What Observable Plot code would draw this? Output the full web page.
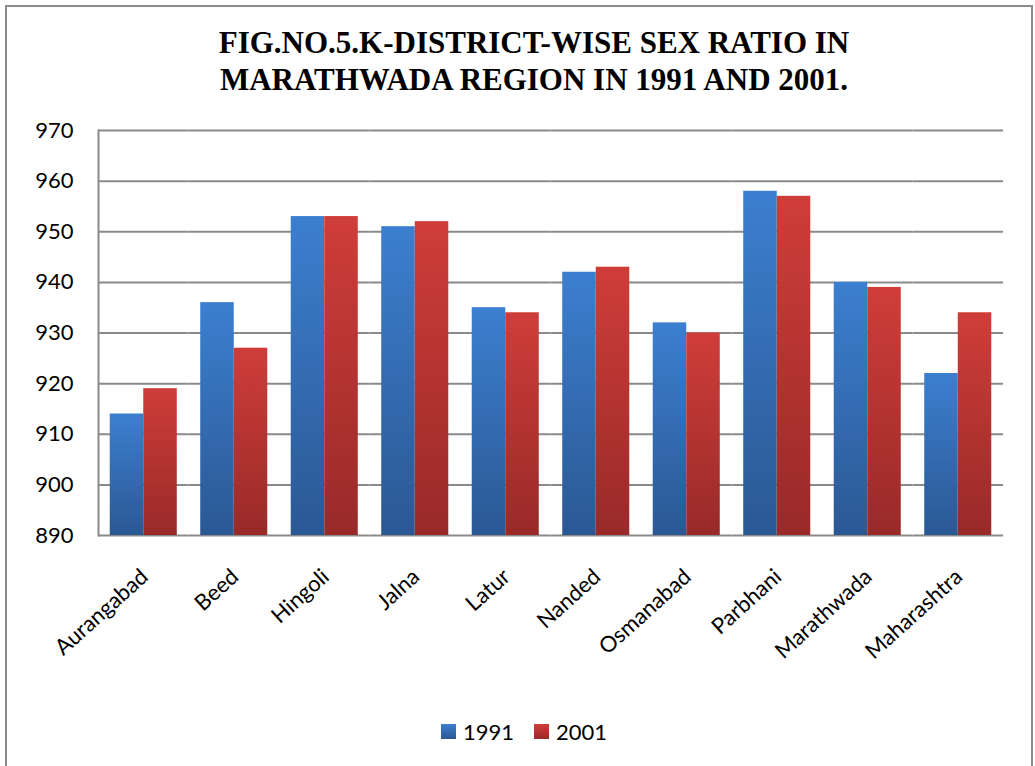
<!DOCTYPE html>
<html>
<head>
<meta charset="utf-8">
<script src="https://cdn.jsdelivr.net/npm/d3@7"></script>
<script src="https://cdn.jsdelivr.net/npm/@observablehq/plot@0.6"></script>
<style>
  html, body { margin: 0; padding: 0; background: #fff; }
  #page { position: relative; width: 1035px; height: 766px; overflow: hidden; }
  #border { position: absolute; left: 5px; top: 5px; width: 1024px; height: 800px;
            border: 2px solid #8c8c8c; border-bottom: none; }
  #title { position: absolute; left: 33px; top: 0; width: 1002px; padding-top: 24px;
           text-align: center; font-family: "Liberation Serif", "Times New Roman", serif;
           font-weight: bold; font-size: 31px; line-height: 37px; color: #000; }
  #chart { position: absolute; left: 0; top: 110px; }
  #chart svg rect[fill^="url"] { filter: drop-shadow(1px 1px 2px rgba(0,0,0,0.28)); }
  #legend { position: absolute; left: 441px; top: 724px; display: flex; align-items: center;
            font-family: Lato, sans-serif; font-size: 22px; line-height: 15px; color: #000; }
  #legend .sw { width: 15px; height: 15px; margin-right: 7px; }
  #legend .item { display: flex; align-items: center; margin-right: 20px; }
</style>
</head>
<body>
<div id="page">
  <div id="border"></div>
  <div id="title">FIG.NO.5.K-DISTRICT-WISE SEX RATIO IN<br>MARATHWADA REGION IN 1991 AND 2001.</div>
  <div id="chart"></div>
  <div id="legend"></div>
</div>
<script>
// District-wise sex ratio (females per 1000 males)
const districts = ["Aurangabad", "Beed", "Hingoli", "Jalna", "Latur", "Nanded",
                   "Osmanabad", "Parbhani", "Marathwada", "Maharashtra"];
const years = ["1991", "2001"];
const ratio1991 = [914, 936, 953, 951, 935, 942, 932, 958, 940, 922];
const ratio2001 = [919, 927, 953, 952, 934, 943, 930, 957, 939, 934];
const yTicks = [890, 900, 910, 920, 930, 940, 950, 960, 970];

const seriesColors = {
  "1991": ["#3c7fd0", "#2b5893"],
  "2001": ["#cf3d39", "#982a29"]
};

const rows = districts.flatMap((d, i) => [
  {district: d, year: "1991", value: ratio1991[i]},
  {district: d, year: "2001", value: ratio2001[i]}
]);

const baseline = yTicks[0];
const svgNS = "http://www.w3.org/2000/svg";

// vertical gradients for the bar fills
function gradients() {
  const defs = document.createElementNS(svgNS, "defs");
  for (const y of years) {
    const g = document.createElementNS(svgNS, "linearGradient");
    g.setAttribute("id", "grad" + y);
    g.setAttribute("x1", "0"); g.setAttribute("y1", "0");
    g.setAttribute("x2", "0"); g.setAttribute("y2", "1");
    seriesColors[y].forEach((c, k) => {
      const s = document.createElementNS(svgNS, "stop");
      s.setAttribute("offset", k === 0 ? "0" : "1");
      s.setAttribute("stop-color", c);
      g.appendChild(s);
    });
    defs.appendChild(g);
  }
  return defs;
}

const gridColor = "#8a8a8a";

const chart = Plot.plot({
  width: 1035,
  height: 585,
  marginLeft: 98,
  marginRight: 32,
  marginTop: 20,
  marginBottom: 160,
  style: {fontFamily: "Lato, sans-serif", fontSize: "22px", color: "#000", background: "transparent", overflow: "visible"},
  fx: {domain: districts, padding: 0, round: false, axis: null},
  x: {domain: years, paddingInner: 0, paddingOuter: 0.35, round: false, axis: null},
  y: {domain: [yTicks[0], yTicks[yTicks.length - 1]], axis: null},
  marks: [
    gradients,
    Plot.gridY(yTicks, {stroke: gridColor, strokeOpacity: 1, strokeWidth: 2}),
    Plot.frame({anchor: "left", stroke: gridColor, strokeWidth: 2, facetAnchor: "left"}),
    ...years.map(y => Plot.barY(rows.filter(r => r.year === y), {
      fx: "district", x: "year", y1: baseline, y2: "value", fill: `url(#grad${y})`
    })),
    Plot.axisY(yTicks, {tickSize: 0, tickPadding: 25, fontSize: 22, fill: "#000", label: null}),
    Plot.text(districts, {
      fx: d => d, text: d => d, frameAnchor: "bottom",
      rotate: -42, textAnchor: "end", lineAnchor: "middle",
      dx: 1, dy: 38, fontSize: 22, fill: "#000"
    })
  ]
});
document.getElementById("chart").appendChild(chart);

// legend
const legend = document.getElementById("legend");
for (const y of years) {
  const item = document.createElement("div");
  item.className = "item";
  const sw = document.createElement("div");
  sw.className = "sw";
  sw.style.background = `linear-gradient(${seriesColors[y][0]}, ${seriesColors[y][1]})`;
  const label = document.createElement("span");
  label.textContent = y;
  item.appendChild(sw);
  item.appendChild(label);
  legend.appendChild(item);
}
</script>
</body>
</html>
